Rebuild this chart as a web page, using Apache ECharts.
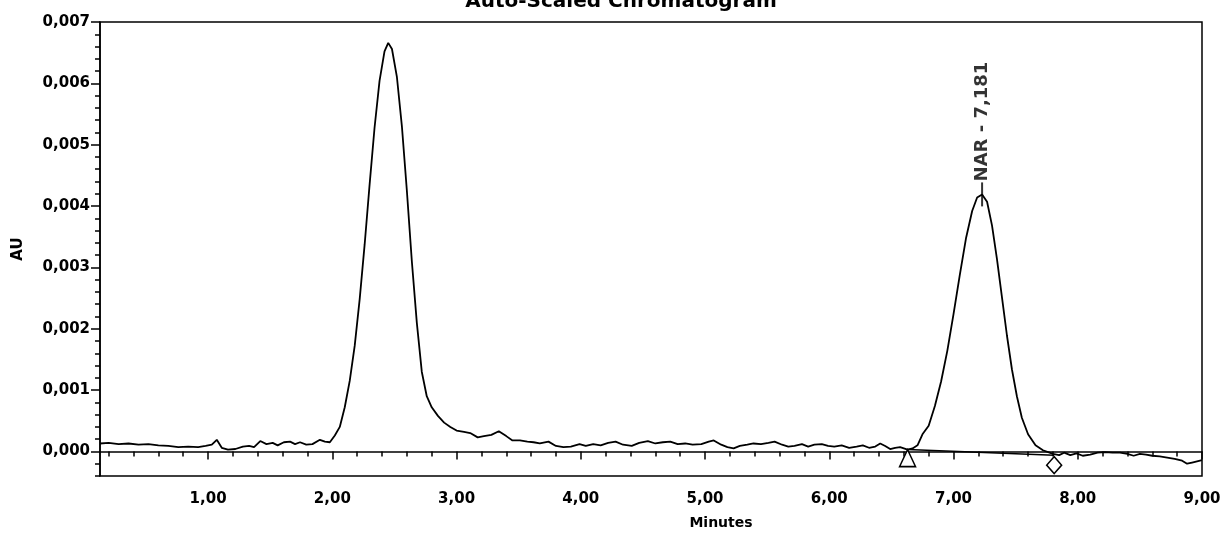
<!DOCTYPE html>
<html>
<head>
<meta charset="utf-8">
<script src="https://cdn.jsdelivr.net/npm/echarts@6/dist/echarts.min.js"></script>
<style>
html,body{margin:0;padding:0;background:#fff;}
#chart{width:1231px;height:537px;}
</style>
</head>
<body>
<div id="chart"></div>
<script>
// ---- data ----
const chartTitle = 'Auto-Scaled Chromatogram';
const xAxisTitle = 'Minutes';
const yAxisTitle = 'AU';

const times = [
  0.13,0.20,0.28,0.36,0.44,0.52,0.60,0.68,0.76,0.84,0.92,0.98,1.03,1.07,1.11,1.16,1.22,1.28,1.33,1.37,
  1.42,1.47,1.52,1.56,1.61,1.66,1.70,1.74,1.79,1.84,1.90,1.94,1.98,2.02,2.06,2.10,2.14,2.18,2.22,2.26,
  2.30,2.34,2.38,2.42,2.45,2.48,2.52,2.56,2.60,2.64,2.68,2.72,2.76,2.80,2.85,2.90,2.95,3.00,3.06,3.11,
  3.17,3.22,3.28,3.34,3.40,3.45,3.51,3.57,3.62,3.67,3.74,3.80,3.86,3.92,3.99,4.04,4.10,4.16,4.22,4.28,
  4.34,4.41,4.47,4.54,4.60,4.66,4.72,4.78,4.84,4.90,4.97,5.03,5.07,5.13,5.18,5.23,5.28,5.34,5.39,5.45,
  5.51,5.56,5.62,5.67,5.72,5.78,5.83,5.88,5.94,5.99,6.04,6.10,6.16,6.22,6.27,6.32,6.37,6.41,6.45,6.49,
  6.53,6.57,6.63,6.67,6.71,6.75,6.80,6.85,6.90,6.95,7.00,7.05,7.10,7.15,7.19,7.23,7.27,7.31,7.35,7.39,
  7.43,7.47,7.51,7.55,7.60,7.66,7.72,7.80,7.85,7.89,7.94,7.99,8.04,8.10,8.16,8.22,8.28,8.34,8.40,8.45,
  8.50,8.55,8.60,8.66,8.72,8.78,8.84,8.88,8.92,8.96,9.00
];
const au = [
  0.00013,0.00014,0.00012,0.00013,0.00011,0.00012,0.00010,0.00009,0.00007,0.00008,0.00007,0.00009,0.00011,0.00019,0.00006,0.00003,0.00004,0.00008,0.00009,0.00007,
  0.00017,0.00012,0.00014,0.00010,0.00015,0.00016,0.00012,0.00015,0.00011,0.00012,0.00019,0.00016,0.00015,0.00026,0.00040,0.00072,0.00115,0.00172,0.00248,0.00337,
  0.00435,0.00528,0.00604,0.00652,0.00666,0.00656,0.00610,0.00530,0.00425,0.00310,0.00210,0.00130,0.00090,0.00072,0.00058,0.00047,0.00040,0.00034,0.00032,0.00030,
  0.00023,0.00025,0.00027,0.00033,0.00025,0.00018,0.00018,0.00016,0.00015,0.00013,0.00016,0.00009,0.00007,0.00008,0.00012,0.00009,0.00012,0.00010,0.00014,0.00016,
  0.00011,0.00009,0.00014,0.00017,0.00013,0.00015,0.00016,0.00012,0.00013,0.00011,0.00012,0.00016,0.00018,0.00011,0.00007,0.00005,0.00009,0.00011,0.00013,0.00012,
  0.00014,0.00016,0.00011,0.00008,0.00009,0.00012,0.00008,0.00011,0.00012,0.00009,0.00008,0.00010,0.00006,0.00008,0.00010,0.00006,0.00008,0.00013,0.00009,0.00004,
  0.00006,0.00007,0.00003,0.00005,0.00010,0.00028,0.00042,0.00074,0.00114,0.00164,0.00224,0.00287,0.00347,0.00392,0.00414,0.00419,0.00407,0.00368,0.00313,0.00251,
  0.00189,0.00134,0.00090,0.00055,0.00028,0.00010,0.00002,-0.00004,-0.00006,-0.00002,-0.00006,-0.00003,-0.00007,-0.00005,-0.00002,-0.00001,-0.00002,-0.00002,-0.00004,-0.00007,
  -0.00004,-0.00005,-0.00007,-0.00008,-0.00010,-0.00012,-0.00015,-0.00020,-0.00018,-0.00016,-0.00014
];

// integration baseline of the NAR peak (start / end markers)
const baselineTimes = [6.63, 7.81];
const baselineAU = [0.00003, -0.00006];

// peak annotation
const peakLabelTimes = [7.23];
const peakLabelTexts = ['NAR - 7,181'];

// axis ticks
const xTickLabels = [1, 2, 3, 4, 5, 6, 7, 8, 9];
const yTickLabels = [0, 0.001, 0.002, 0.003, 0.004, 0.005, 0.006, 0.007];
const xMin = 0.13, xMax = 9.0;
const yMin = -0.0004, yMax = 0.007;

// minor tick positions (every 0.2 min, every 0.0002 AU)
const xMinorTicks = [];
for (let k = 1; k <= 45; k++) xMinorTicks.push(Math.round(k * 2) / 10);
const yMinorTicks = [];
for (let k = -2; k <= 35; k++) yMinorTicks.push(Math.round(k * 2) / 10000);

// ---- build chart ----
const lineData = times.map((t, i) => [t, au[i]]);
const peakData = peakLabelTimes.map((t, i) => {
  const idx = times.indexOf(t);
  return { value: [t, au[idx]], labelText: peakLabelTexts[i] };
});

const FONT = 'DejaVu Sans';
const chart = echarts.init(document.getElementById('chart'), null, { renderer: 'canvas' });

const option = {
  animation: false,
  backgroundColor: '#ffffff',
  grid: {
    left: 100, right: 29, top: 22, bottom: 61,
    show: true, borderColor: '#000', borderWidth: 1.5, backgroundColor: 'transparent'
  },
  graphic: [
    {
      type: 'text',
      x: 621, y: 12,
      style: {
        text: chartTitle,
        font: 'bold 20px "' + FONT + '"',
        fill: '#000',
        textAlign: 'center',
        textVerticalAlign: 'bottom'
      }
    }
  ],
  xAxis: [
    {
      type: 'value', min: xMin, max: xMax,
      name: xAxisTitle, nameLocation: 'middle', nameGap: 40,
      nameTextStyle: { color: '#000', fontFamily: FONT, fontWeight: 'bold', fontSize: 14, padding: [0, 0, 0, 140] },
      axisLine: { show: true, lineStyle: { color: '#000', width: 1.5 } },
      axisTick: { show: true, inside: false, length: 8, lineStyle: { color: '#000', width: 1.5 }, customValues: xTickLabels },
      axisLabel: {
        show: true, customValues: xTickLabels, margin: 16,
        color: '#000', fontFamily: FONT, fontWeight: 'bold', fontSize: 15,
        formatter: v => v.toFixed(2).replace('.', ',')
      },
      splitLine: { show: false }
    },
    {
      type: 'value', min: xMin, max: xMax, position: 'bottom',
      axisLine: { show: false },
      axisTick: { show: true, inside: false, length: 5, lineStyle: { color: '#000', width: 1.5 }, customValues: xMinorTicks },
      axisLabel: { show: false },
      splitLine: { show: false }
    }
  ],
  yAxis: [
    {
      type: 'value', min: yMin, max: yMax,
      name: yAxisTitle, nameLocation: 'middle', nameGap: 74, nameRotate: 90,
      nameTextStyle: { color: '#000', fontFamily: FONT, fontWeight: 'bold', fontSize: 15 },
      axisLine: { show: true, lineStyle: { color: '#000', width: 1.5 } },
      axisTick: { show: true, inside: false, length: 9, lineStyle: { color: '#000', width: 1.5 }, customValues: yTickLabels },
      axisLabel: {
        show: true, customValues: yTickLabels, margin: 10,
        color: '#000', fontFamily: FONT, fontWeight: 'bold', fontSize: 15,
        formatter: v => v.toFixed(3).replace('.', ',')
      },
      splitLine: { show: false }
    },
    {
      type: 'value', min: yMin, max: yMax, position: 'left',
      axisLine: { show: false },
      axisTick: { show: true, inside: false, length: 5, lineStyle: { color: '#000', width: 1.5 }, customValues: yMinorTicks },
      axisLabel: { show: false },
      splitLine: { show: false }
    }
  ],
  series: [
    {
      type: 'line', xAxisIndex: 0, yAxisIndex: 0,
      data: lineData,
      showSymbol: false, symbol: 'none',
      lineStyle: { color: '#000', width: 1.8 },
      z: 3
    },
    {
      type: 'line', xAxisIndex: 0, yAxisIndex: 0,
      data: [
        { value: [baselineTimes[0], baselineAU[0]], symbol: 'triangle', symbolSize: [16, 17], symbolOffset: [0, 8.5] },
        { value: [baselineTimes[1], baselineAU[1]], symbol: 'diamond', symbolSize: [15, 17], symbolOffset: [0, 10] }
      ],
      showSymbol: true, showAllSymbol: true,
      itemStyle: { color: '#fff', borderColor: '#000', borderWidth: 1.5 },
      lineStyle: { color: '#000', width: 1.5 },
      z: 4
    },
    {
      type: 'scatter', xAxisIndex: 0, yAxisIndex: 0,
      data: peakData,
      symbol: 'rect', symbolSize: [2, 24],
      itemStyle: { color: '#000' },
      label: {
        show: true, position: 'top', distance: 1, rotate: 90,
        align: 'left', verticalAlign: 'middle',
        color: '#000', fontFamily: FONT, fontWeight: 'bold', fontSize: 18,
        formatter: p => p.data.labelText
      },
      z: 5
    }
  ]
};
chart.setOption(option);
</script>
</body>
</html>
